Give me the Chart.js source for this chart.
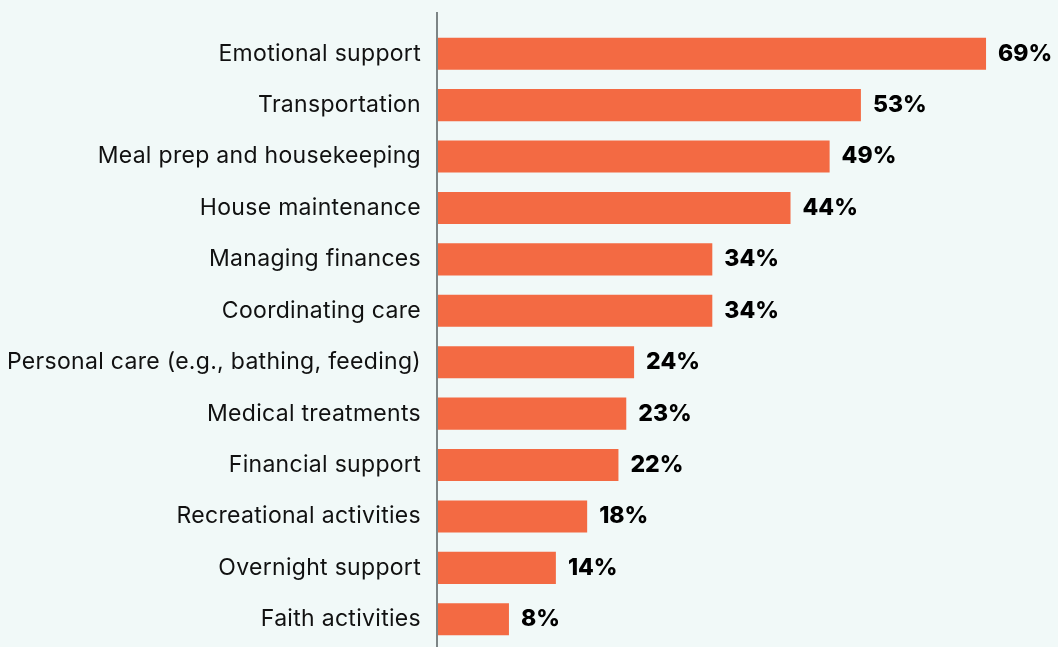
<!DOCTYPE html>
<html>
<head>
<meta charset="utf-8">
<script src="https://cdn.jsdelivr.net/npm/chart.js@4"></script>
<style>
  html, body { margin: 0; padding: 0; background: #f1f9f8; }
  #wrap { width: 1058px; height: 647px; position: relative; }
</style>
</head>
<body>
<div id="wrap"><canvas id="supportChart"></canvas></div>
<script>
// Types of support provided
const categories = [
  "Emotional support",
  "Transportation",
  "Meal prep and housekeeping",
  "House maintenance",
  "Managing finances",
  "Coordinating care",
  "Personal care (e.g., bathing, feeding)",
  "Medical treatments",
  "Financial support",
  "Recreational activities",
  "Overnight support",
  "Faith activities",
];
const shares = [69, 53, 49, 44, 34, 34, 24, 23, 22, 18, 14, 8];

const barColor = "#f36a43";
const textFont = "Inter, 'Liberation Sans', sans-serif";

/**
 * Draws the vertical axis line and the bold percentage labels
 */
const labelPlugin = {
  id: "barLabels",
  beforeDraw: (chart) => {
    chart.ctx.letterSpacing = "0.3px";
  },
  afterDatasetsDraw: (chart) => {
    const ctx = chart.ctx;
    const x = chart.scales.x.left;
    ctx.save();
    ctx.strokeStyle = "#7d8586";
    ctx.lineWidth = 2;
    ctx.beginPath();
    ctx.moveTo(x, chart.chartArea.top - 16);
    ctx.lineTo(x, chart.height);
    ctx.stroke();

    ctx.fillStyle = "#000";
    ctx.font = `800 23px ${textFont}`;
    ctx.letterSpacing = "0px";
    ctx.textAlign = "left";
    ctx.textBaseline = "middle";
    chart.getDatasetMeta(0).data.forEach((bar, i) => {
      ctx.fillText(`${shares[i]}%`, bar.x + 12, bar.y);
    });
    ctx.restore();
  },
};

const ctx = document.getElementById("supportChart").getContext("2d");

new Chart(ctx, {
  type: "bar",
  data: {
    labels: categories,
    datasets: [
      {
        data: shares,
        backgroundColor: barColor,
        borderWidth: 0,
        base: -1.2,
        barPercentage: 0.78,
        categoryPercentage: 0.8,
      },
    ],
  },
  options: {
    indexAxis: "y",
    responsive: true,
    maintainAspectRatio: false,
    animation: false,
    layout: {
      padding: { top: 28, bottom: 2, left: 0, right: 0 },
    },
    plugins: {
      legend: { display: false },
      tooltip: { enabled: false },
    },
    scales: {
      x: {
        display: false,
        min: -1.2,
        max: 78.2,
      },
      y: {
        afterFit: (scale) => {
          scale.width = 437;
          scale.paddingTop = 0;
          scale.paddingBottom = 0;
        },
        border: { display: false },
        grid: { display: false, drawTicks: false },
        ticks: {
          padding: 16,
          color: "#111",
          font: { family: textFont, size: 23 },
        },
      },
    },
  },
  plugins: [labelPlugin],
});
</script>
</body>
</html>
